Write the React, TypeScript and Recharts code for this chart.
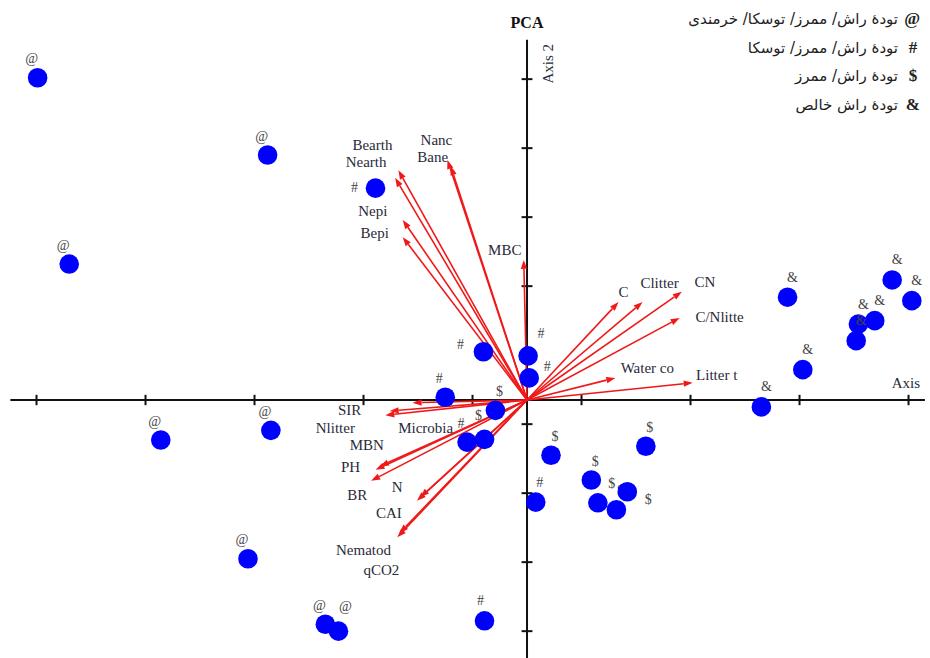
import React from 'react';
import { ScatterChart, Scatter, XAxis, YAxis, ReferenceLine } from 'recharts';

// ---------- data ----------
const groupSymbols = ['@', '#', '$', '&'];

const scoresAt = [
  [-4.49, 4.67], [-2.38, 3.55], [-4.2, 1.97], [-3.36, -0.58],
  [-2.35, -0.44], [-2.56, -2.3], [-1.85, -3.25], [-1.73, -3.35],
];
const scoresHash = [
  [-1.39, 3.07], [-0.4, 0.7], [0.01, 0.64], [0.02, 0.32],
  [-0.75, 0.04], [-0.55, -0.61], [0.08, -1.48], [-0.39, -3.2],
];
const scoresDollar = [
  [-0.29, -0.15], [-0.39, -0.57], [0.22, -0.8], [1.09, -0.67],
  [0.59, -1.16], [0.65, -1.49], [0.82, -1.59], [0.92, -1.33],
];
const scoresAmp = [
  [2.39, 1.49], [3.35, 1.74], [3.53, 1.44], [3.19, 1.15],
  [3.04, 1.1], [3.02, 0.86], [2.53, 0.44], [2.15, -0.1],
];

const vectorNames = [
  'Bearth', 'Nearth', 'Nanc', 'Bane', 'Nepi', 'Bepi', 'MBC',
  'C', 'Clitter', 'CN', 'C/Nlitte', 'Water co', 'Litter t',
  'SIR', 'Microbia', 'Nlitter', 'MBN', 'PH', 'BR', 'N', 'CAI', 'Nematod', 'qCO2',
];
const vectorX = [
  -1.18, -1.21, -0.73, -0.7, -1.14, -1.14, -0.03,
  0.84, 1.06, 1.42, 1.4, 0.81, 1.52,
  -1.05, -1.26, -1.3, -1.35, -1.39, -1.43, -0.98, -1.01, -1.17, -1.19,
];
const vectorY = [
  3.33, 3.22, 3.48, 3.39, 2.61, 2.36, 2.03,
  1.42, 1.42, 1.57, 1.19, 0.32, 0.25,
  -0.04, -0.16, -0.22, -0.96, -1.01, -1.17, -1.41, -1.46, -1.93, -1.99,
];

const xTicks = [-4.5, -3.5, -2.5, -1.5, -0.5, 0.5, 1.5, 2.5, 3.5];
const yTicks = [-3.35, -2.35, -1.35, -0.35, 0.65, 1.65, 2.65, 3.65, 4.65];

const legendLabels = [
  'تودهٔ راش/ ممرز/ توسکا/ خرمندی',
  'تودهٔ راش/ ممرز/ توسکا',
  'تودهٔ راش/ ممرز',
  'تودهٔ راش خالص',
];

// ---------- layout / style config ----------
const W = 930;
const H = 658;
const xDomain = [-4.835, 3.697];
const yDomain = [-3.739, 5.797];
const RED = '#f01818';
const BLUE = '#0000ff';
const SERIF = '"Liberation Serif", "Times New Roman", serif';
const TEXT = '#2a2a3a';

const vectorLabelNudge: Record<string, [number, number]> = {
  Bearth: [-26, -25], Nearth: [-29, -16], Nanc: [-11, -20], Bane: [-18, -9],
  Nepi: [-30, -9], Bepi: [-28, -4], MBC: [-19, -10],
  C: [5, -10], Clitter: [17, -19], CN: [23, -10], 'C/Nlitte': [40, -1],
  'Water co': [32, -10], 'Litter t': [24, -8],
  SIR: [-63, 7], Microbia: [36, 17], Nlitter: [-50, 13],
  MBN: [-13, -21], PH: [-25, -3], BR: [-14, 14], N: [-23, -10],
  CAI: [-28, 12], Nematod: [-36, 17], qCO2: [-16, 33],
};

const groupNudge: Record<string, [number, number]> = {
  '@': [-6, -19], '#': [-4, -20], '$': [4, -19], '&': [5, -20],
};
const pointNudge: Record<string, [number, number]> = {
  '@-7': [7, -25],
  '#-0': [-21, -1], '#-1': [-23, -7], '#-2': [13, -22], '#-3': [18, -11],
  '#-4': [-6, -19], '#-5': [-6, -19], '#-6': [4, -20],
  '$-1': [-6, -24], '$-5': [14, -19], '$-7': [21, 8],
};

const groups = [scoresAt, scoresHash, scoresDollar, scoresAmp].map((arr, gi) =>
  arr.map(([x, y], i) => ({ x, y, sym: groupSymbols[gi], key: `${groupSymbols[gi]}-${i}` }))
);

const DotShape = (props: any) => {
  const { cx, cy, payload } = props;
  if (cx == null || cy == null) return null;
  const [dx, dy] = pointNudge[payload.key] || groupNudge[payload.sym];
  return (
    <g>
      <circle cx={cx} cy={cy} r={9.8} fill={BLUE} />
      <text
        x={cx + dx}
        y={cy + dy}
        textAnchor="middle"
        dominantBaseline="central"
        fontFamily={SERIF}
        fontSize={14}
        fill="#444"
      >
        {payload.sym}
      </text>
    </g>
  );
};

const makeArrow = (name: string) => (p: any) => {
  const { x1, y1, x2, y2 } = p;
  const ang = Math.atan2(y2 - y1, x2 - x1);
  const L = 9;
  const Wd = 3.2;
  const bx = x2 - L * Math.cos(ang);
  const by = y2 - L * Math.sin(ang);
  const px = -Math.sin(ang) * Wd;
  const py = Math.cos(ang) * Wd;
  const [dx, dy] = vectorLabelNudge[name] || [0, -10];
  return (
    <g>
      <line x1={x1} y1={y1} x2={bx} y2={by} stroke={RED} strokeWidth={1.6} />
      <polygon points={`${x2},${y2} ${bx + px},${by + py} ${bx - px},${by - py}`} fill={RED} />
      <text
        x={x2 + dx}
        y={y2 + dy}
        textAnchor="middle"
        dominantBaseline="central"
        fontFamily={SERIF}
        fontSize={15}
        fill={TEXT}
      >
        {name}
      </text>
    </g>
  );
};

const VAxisShape = (p: any) => {
  const { x1, y1, x2, y2 } = p;
  const top = Math.min(y1, y2);
  return (
    <g>
      <line x1={x1} y1={y1} x2={x2} y2={y2} stroke="#111" strokeWidth={2} />
      <text x={x1} y={top - 12} textAnchor="middle" fontFamily={SERIF} fontWeight="bold" fontSize={16} fill="#111">
        PCA
      </text>
      <text
        x={x1 + 21}
        y={top + 24}
        textAnchor="middle"
        dominantBaseline="central"
        transform={`rotate(-90 ${x1 + 21} ${top + 24})`}
        fontFamily={SERIF}
        fontSize={15}
        fill={TEXT}
      >
        Axis 2
      </text>
    </g>
  );
};

const HAxisShape = (p: any) => {
  const { x1, y1, x2, y2 } = p;
  const right = Math.max(x1, x2);
  return (
    <g>
      <line x1={x1} y1={y1} x2={x2} y2={y2} stroke="#111" strokeWidth={2} />
      <text x={right - 19} y={y1 - 17} textAnchor="middle" dominantBaseline="central" fontFamily={SERIF} fontSize={15} fill={TEXT}>
        Axis
      </text>
    </g>
  );
};

export default function App() {
  return (
    <div style={{ position: 'absolute', left: 0, top: 0, width: W, height: H, background: '#fff' }}>
      <ScatterChart width={W} height={H} margin={{ top: 0, right: 0, bottom: 0, left: 0 }}>
        <XAxis type="number" dataKey="x" domain={xDomain} hide allowDataOverflow />
        <YAxis type="number" dataKey="y" domain={yDomain} hide allowDataOverflow />
        <ReferenceLine
          segment={[{ x: -4.74, y: 0 }, { x: 3.65, y: 0 }]}
          shape={HAxisShape}
          ifOverflow="visible"
        />
        <ReferenceLine
          segment={[{ x: 0, y: 5.22 }, { x: 0, y: -3.739 }]}
          shape={VAxisShape}
          ifOverflow="visible"
        />
        {xTicks.map((t) => (
          <ReferenceLine
            key={`xt${t}`}
            segment={[{ x: t, y: -0.075 }, { x: t, y: 0.075 }]}
            stroke="#111"
            strokeWidth={2}
            ifOverflow="visible"
          />
        ))}
        {yTicks.map((t) => (
          <ReferenceLine
            key={`yt${t}`}
            segment={[{ x: -0.05, y: t }, { x: 0.05, y: t }]}
            stroke="#111"
            strokeWidth={2}
            ifOverflow="visible"
          />
        ))}
        {groups.map((g, gi) => (
          <Scatter key={gi} data={g} shape={DotShape} isAnimationActive={false} />
        ))}
        {vectorNames.map((name, i) => (
          <ReferenceLine
            key={name}
            segment={[{ x: 0, y: 0 }, { x: vectorX[i], y: vectorY[i] }]}
            shape={makeArrow(name)}
            ifOverflow="visible"
          />
        ))}
      </ScatterChart>
      <div
        style={{
          position: 'absolute',
          top: 5,
          right: 10,
          fontFamily: '"DejaVu Sans", sans-serif',
          fontSize: 15,
          color: '#222',
        }}
      >
        {legendLabels.map((lab, i) => (
          <div
            key={i}
            dir="rtl"
            style={{ display: 'flex', alignItems: 'center', height: 28.5, gap: 8 }}
          >
            <span style={{ fontFamily: SERIF, fontSize: 17, fontWeight: 'bold', width: 14, textAlign: 'center' }}>
              {groupSymbols[i]}
            </span>
            <span>{lab}</span>
          </div>
        ))}
      </div>
    </div>
  );
}
